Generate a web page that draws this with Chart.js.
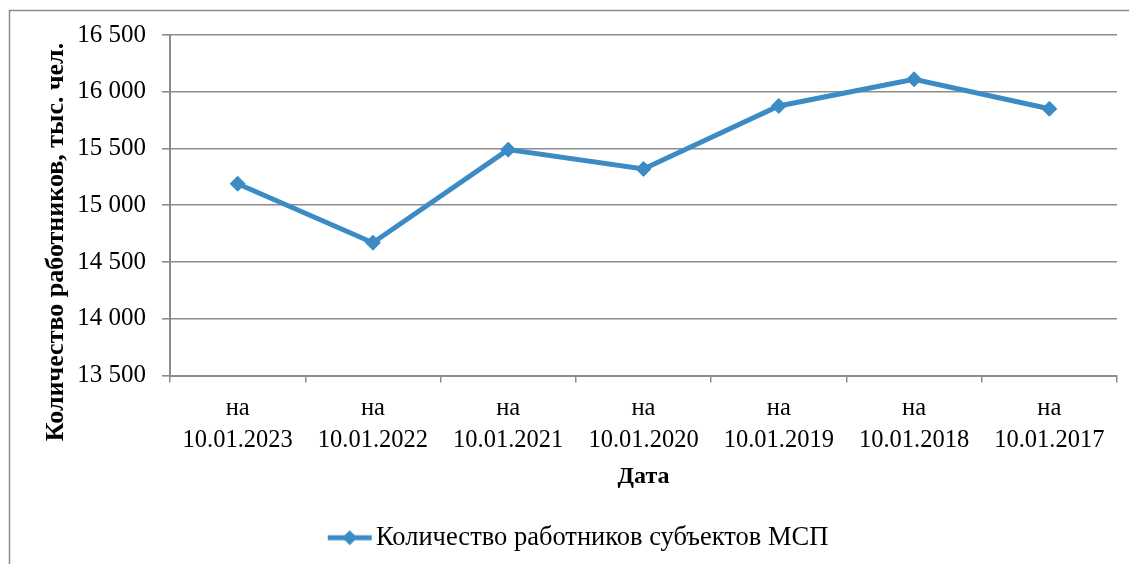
<!DOCTYPE html>
<html>
<head>
<meta charset="utf-8">
<script src="https://cdn.jsdelivr.net/npm/chart.js@4/dist/chart.umd.min.js"></script>
<style>
  html, body { margin: 0; padding: 0; background: #fff; }
  #wrap { width: 1129px; height: 564px; position: relative; }
</style>
</head>
<body>
<div id="wrap"><canvas id="c" width="1129" height="564"></canvas></div>
<script>
const categories = [
  ['на', '10.01.2023'],
  ['на', '10.01.2022'],
  ['на', '10.01.2021'],
  ['на', '10.01.2020'],
  ['на', '10.01.2019'],
  ['на', '10.01.2018'],
  ['на', '10.01.2017']
];
const workers = [15190, 14670, 15490, 15320, 15875, 16110, 15850];
const seriesName = 'Количество работников субъектов МСП';
const yTitle = 'Количество работников, тыс. чел.';
const xTitle = 'Дата';
const yMin = 13500, yMax = 16500, yStep = 500;

const BLUE = '#3d8bc5';
const GRAY = '#8c8c8c';
const FONT = "'Liberation Serif', 'Times New Roman', serif";

function fmt(v) { return String(v).replace(/\B(?=(\d{3})+(?!\d))/g, ' '); }

// legend symbol: line with a diamond
const sym = document.createElement('canvas');
sym.width = 46; sym.height = 18;
(function () {
  const g = sym.getContext('2d');
  g.strokeStyle = BLUE; g.lineWidth = 5;
  g.beginPath(); g.moveTo(1, 9); g.lineTo(45, 9); g.stroke();
  g.fillStyle = BLUE;
  g.beginPath(); g.moveTo(23, 1.5); g.lineTo(30.5, 9); g.lineTo(23, 16.5); g.lineTo(15.5, 9); g.closePath(); g.fill();
})();

const frame = {
  id: 'frame',
  beforeDraw(chart) {
    const ctx = chart.ctx;
    ctx.save();
    ctx.fillStyle = '#fff';
    ctx.fillRect(0, 0, chart.width, chart.height);
    ctx.strokeStyle = GRAY; ctx.lineWidth = 1.5;
    ctx.strokeRect(9.5, 10.5, 1200, 700);
    ctx.restore();
  },
  afterDraw(chart) {
    const ctx = chart.ctx;
    ctx.save();
    ctx.translate(56, 242);
    ctx.rotate(-Math.PI / 2);
    ctx.fillStyle = '#000';
    ctx.font = 'bold 26px ' + FONT;
    ctx.textAlign = 'center';
    ctx.textBaseline = 'middle';
    ctx.fillText(yTitle, 0, 0);
    ctx.restore();
  }
};

new Chart(document.getElementById('c'), {
  type: 'line',
  data: {
    labels: categories,
    datasets: [{
      label: seriesName,
      data: workers,
      borderColor: BLUE,
      backgroundColor: BLUE,
      borderWidth: 5,
      pointStyle: 'rectRot',
      pointRadius: 7.5,
      pointHoverRadius: 7.5,
      pointBackgroundColor: BLUE,
      pointBorderColor: BLUE,
      pointBorderWidth: 1,
      tension: 0
    }]
  },
  options: {
    responsive: false,
    animation: false,
    devicePixelRatio: 1,
    layout: { padding: { left: 48, right: 12, top: 35, bottom: 3 } },
    plugins: {
      tooltip: { enabled: false },
      legend: {
        position: 'bottom',
        labels: {
          usePointStyle: true,
          pointStyleWidth: 26,
          padding: 5,
          color: '#000',
          font: { family: FONT, size: 26.5 },
          generateLabels() {
            return [{ text: seriesName, pointStyle: sym, fillStyle: BLUE, strokeStyle: BLUE, lineWidth: 0, datasetIndex: 0, hidden: false }];
          }
        }
      }
    },
    scales: {
      x: {
        offset: true,
        afterFit(s) { s.height = 144; },
        grid: { display: true, offset: true, drawOnChartArea: false, drawTicks: true, tickLength: 7, color: GRAY, lineWidth: 1.5 },
        border: { display: true, color: GRAY, width: 2 },
        ticks: { color: '#000', font: { family: FONT, size: 24.5, lineHeight: 1.3 }, padding: 10, maxRotation: 0, autoSkip: false },
        title: { display: true, text: xTitle, color: '#000', font: { family: FONT, size: 24, weight: 'bold', lineHeight: 1.2 }, padding: { top: 0, bottom: 28 } }
      },
      y: {
        min: yMin, max: yMax,
        afterFit(s) { s.width = 122; },
        grid: { color: GRAY, lineWidth: 1.6, tickLength: 8, drawTicks: true },
        border: { display: true, color: GRAY, width: 2 },
        ticks: { stepSize: yStep, color: '#000', font: { family: FONT, size: 25 }, padding: 16, callback: v => fmt(v) }
      }
    }
  },
  plugins: [frame]
});
</script>
</body>
</html>
